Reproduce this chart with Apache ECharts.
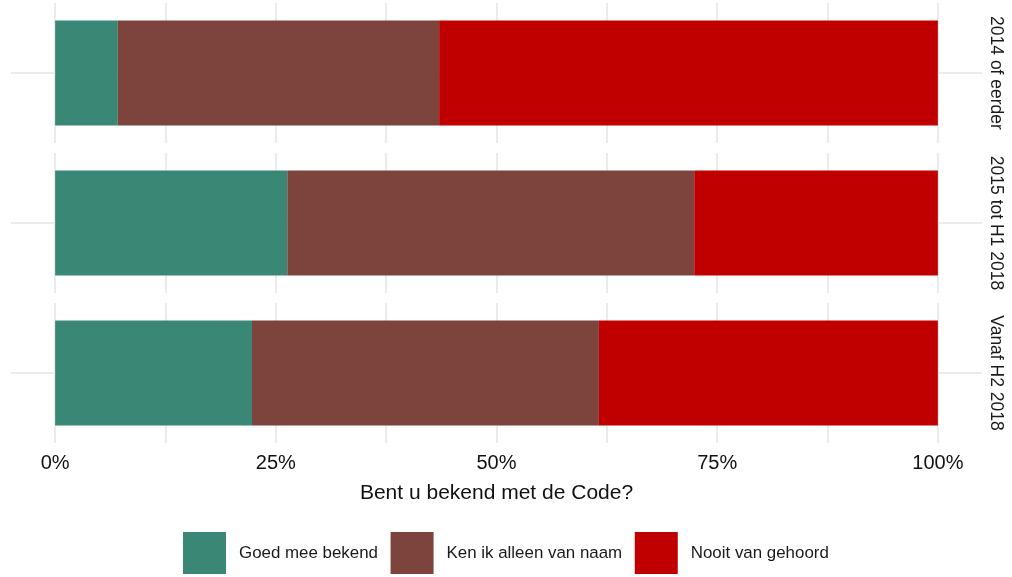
<!DOCTYPE html>
<html>
<head>
<meta charset="utf-8">
<script src="https://cdn.jsdelivr.net/npm/echarts@6/dist/echarts.min.js"></script>
<style>
  html, body { margin: 0; padding: 0; background: #fff; }
  #chart { width: 1012px; height: 577px; }
</style>
</head>
<body>
<div id="chart"></div>
<script>
// facetten (periodes) en antwoordcategorieen
const periods = ['2014 of eerder', '2015 tot H1 2018', 'Vanaf H2 2018'];
const answers = ['Goed mee bekend', 'Ken ik alleen van naam', 'Nooit van gehoord'];
const colors = ['#3b8776', '#7d443d', '#c00000'];

// aandeel in % per periode
const goed = [7.1, 26.3, 22.3];
const naam = [36.4, 46.1, 39.3];
const nooit = [56.5, 27.6, 38.4];
const values = [goed, naam, nooit];

const tickValues = [0, 12.5, 25, 37.5, 50, 62.5, 75, 87.5, 100];
const labelValues = [0, 25, 50, 75, 100];

const font = "'Liberation Sans', Arial, sans-serif";
const gridColor = '#ebebeb';

const chart = echarts.init(document.getElementById('chart'));

const grids = [], xAxes = [], yAxes = [], series = [];

periods.forEach((p, i) => {
  const last = i === periods.length - 1;
  grids.push({ left: 11, width: 971, top: 3 + i * 150, height: 140 });

  xAxes.push({
    type: 'value',
    gridIndex: i,
    min: -5,
    max: 105,
    axisLine: { show: false },
    axisTick: { show: false, customValues: tickValues },
    splitLine: { show: true, lineStyle: { color: gridColor, width: 2 } },
    axisLabel: {
      show: last,
      customValues: labelValues,
      formatter: '{value}%',
      fontSize: 20,
      color: '#111',
      fontFamily: font,
      margin: 10
    },
    name: last ? 'Bent u bekend met de Code?' : '',
    nameLocation: 'middle',
    nameGap: 40,
    nameTextStyle: { fontSize: 21, color: '#111', fontFamily: font }
  });

  yAxes.push({
    type: 'category',
    gridIndex: i,
    position: 'right',
    data: [p],
    axisLine: { show: false },
    axisTick: { show: false },
    splitLine: { show: false },
    axisLabel: {
      rotate: -90,
      fontSize: 17.5,
      color: '#1a1a1a',
      fontFamily: font,
      margin: 5
    }
  });

  answers.forEach((a, k) => {
    const s = {
      name: a,
      type: 'bar',
      stack: 'p' + i,
      xAxisIndex: i,
      yAxisIndex: i,
      barWidth: '75%',
      itemStyle: { color: colors[k] },
      data: [values[k][i]]
    };
    if (k === 0) {
      s.markLine = {
        silent: true,
        z: 1,
        symbol: 'none',
        label: { show: false },
        lineStyle: { color: gridColor, width: 2, type: 'solid' },
        data: [{ yAxis: p }]
      };
    }
    series.push(s);
  });
});

const option = {
  backgroundColor: '#fff',
  animation: false,
  grid: grids,
  xAxis: xAxes,
  yAxis: yAxes,
  legend: {
    data: answers,
    left: 183,
    top: 532,
    padding: 0,
    icon: 'rect',
    itemWidth: 43,
    itemHeight: 42,
    itemGap: 12.6,
    textStyle: {
      fontSize: 16.9,
      color: '#1a1a1a',
      fontFamily: font,
      padding: [0, 0, 0, 8]
    }
  },
  series: series
};

chart.setOption(option);
</script>
</body>
</html>
